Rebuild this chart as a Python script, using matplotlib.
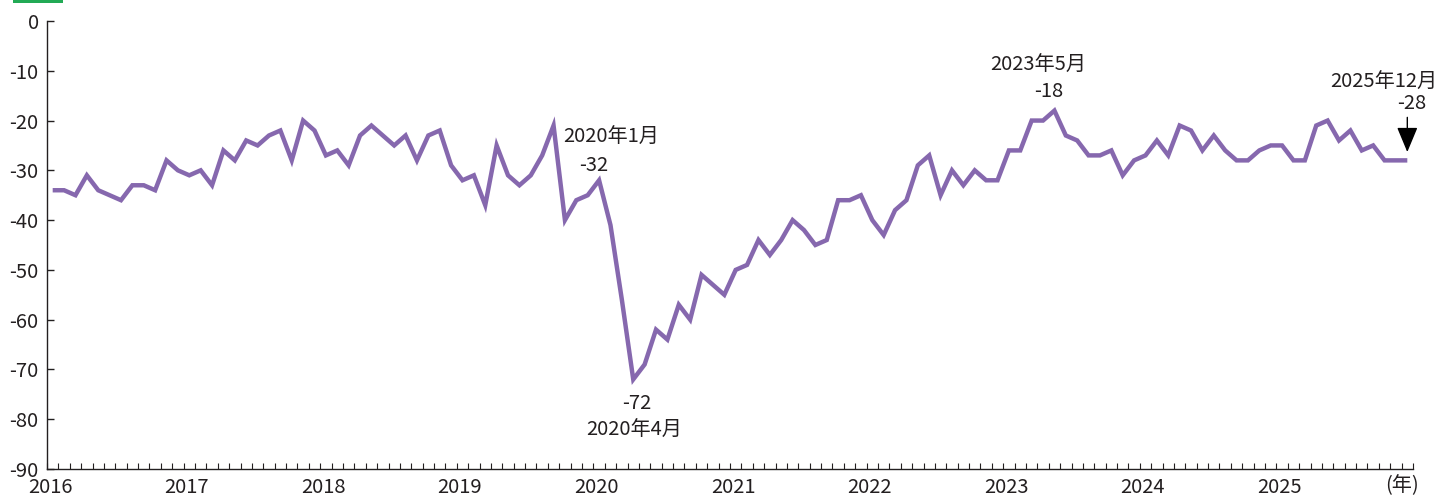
import matplotlib
matplotlib.use("Agg")
import matplotlib.pyplot as plt
import matplotlib.transforms as mtransforms
from matplotlib.patches import Rectangle
import numpy as np

plt.rcParams['font.family'] = ['Noto Sans CJK JP', 'DejaVu Sans']

years = ['2016', '2017', '2018', '2019', '2020', '2021', '2022', '2023', '2024', '2025']
v2016 = [-34, -34, -35, -31, -34, -35, -36, -33, -33, -34, -28, -30]
v2017 = [-31, -30, -33, -26, -28, -24, -25, -23, -22, -28, -20, -22]
v2018 = [-27, -26, -29, -23, -21, -23, -25, -23, -28, -23, -22, -29]
v2019 = [-32, -31, -37, -25, -31, -33, -31, -27, -21, -40, -36, -35]
v2020 = [-32, -41, -56, -72, -69, -62, -64, -57, -60, -51, -53, -55]
v2021 = [-50, -49, -44, -47, -44, -40, -42, -45, -44, -36, -36, -35]
v2022 = [-40, -43, -38, -36, -29, -27, -35, -30, -33, -30, -32, -32]
v2023 = [-26, -26, -20, -20, -18, -23, -24, -27, -27, -26, -31, -28]
v2024 = [-27, -24, -27, -21, -22, -26, -23, -26, -28, -28, -26, -25]
v2025 = [-25, -28, -28, -21, -20, -24, -22, -26, -25, -28, -28, -28]
values = v2016 + v2017 + v2018 + v2019 + v2020 + v2021 + v2022 + v2023 + v2024 + v2025
yticks = [0, -10, -20, -30, -40, -50, -60, -70, -80, -90]

LINE = '#8668ae'
TXT = '#231f20'
FS = 14.5

fig = plt.figure(figsize=(14.48, 4.97), dpi=100)
W, H = 1448, 497
ax = fig.add_axes([47 / W, 1 - 469 / H, (1413 - 47) / W, (469 - 21) / H])

x = np.arange(len(values)) + 0.5
ax.plot(x, values, color=LINE, lw=3.2, solid_joinstyle='miter', solid_capstyle='butt', zorder=3)

ax.set_xlim(0, len(values))
ax.set_ylim(-90, 0)
ax.set_yticks(yticks)
ax.set_yticklabels([str(t) for t in yticks])
ax.set_xticks(np.arange(0, len(values) + 1, 12)[:len(years)])
ax.set_xticklabels(years)
ax.set_xticks(np.arange(0, len(values) + 1, 1), minor=True)

for s in ['top', 'right']:
    ax.spines[s].set_visible(False)
for s in ['left', 'bottom']:
    ax.spines[s].set_color(TXT)
    ax.spines[s].set_linewidth(1.0)

ax.tick_params(axis='y', direction='in', length=5, width=1, color=TXT, labelsize=FS, labelcolor=TXT, pad=6)
ax.tick_params(axis='x', which='major', direction='in', length=4, width=0.8, color=TXT, labelsize=FS, labelcolor=TXT, pad=6)
ax.tick_params(axis='x', which='minor', direction='in', length=4, width=0.8, color=TXT)

shift = mtransforms.ScaledTranslation(3 / 100, 0, fig.dpi_scale_trans)
for t in ax.get_xticklabels():
    t.set_transform(t.get_transform() + shift)

# unit label
ax.annotate('(年)', xy=(len(values), -90), xycoords='data', xytext=(-11, -6), textcoords='offset pixels',
            ha='center', va='top', fontsize=FS, color=TXT)

def lab(idx, text, dx, dy, va='center'):
    ax.annotate(text, xy=(idx + 0.5, values[idx]), xycoords='data', xytext=(dx, dy),
                textcoords='offset pixels', ha='center', va=va, fontsize=FS, color=TXT)

i_jan20 = 48
i_apr20 = 51
i_may23 = 88
i_last = len(values) - 1

lab(i_jan20, '2020年1月', 12, 43)
lab(i_jan20, f'{values[i_jan20]}', -5, 15)
lab(i_apr20, f'{values[i_apr20]}', 4, -24)
lab(i_apr20, '2020年4月', 1, -51)
lab(i_may23, '2023年5月', -16, 45)
lab(i_may23, f'{values[i_may23]}', -6, 19)
lab(i_last, '2025年12月', -24, 78)
lab(i_last, f'{values[i_last]}', 4, 57)

ax.annotate('', xy=(x[i_last], values[i_last]), xycoords='data',
            xytext=(0, 43), textcoords='offset pixels',
            arrowprops=dict(arrowstyle='-|>,head_length=1.2,head_width=0.5', mutation_scale=13,
                            color='black', lw=1.0, shrinkA=0, shrinkB=6))

# green tab at top-left
fig.patches.append(Rectangle((13 / W, 1 - 3 / H), 50 / W, 3 / H, transform=fig.transFigure,
                             facecolor='#22aa55', edgecolor='none'))

fig.savefig('out.png', dpi=100)
